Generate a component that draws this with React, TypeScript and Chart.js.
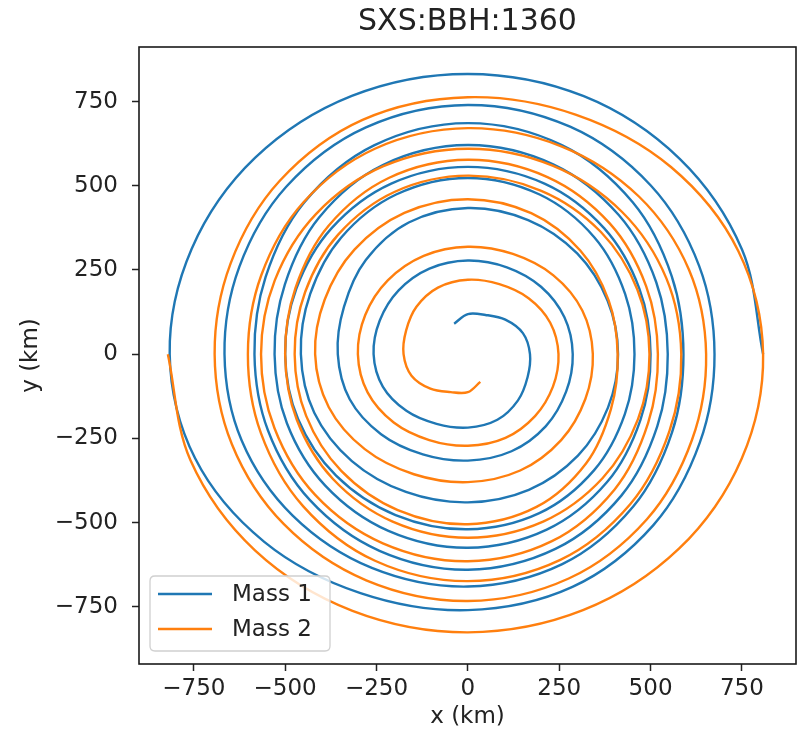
import React, { useEffect, useRef } from 'react';
import { Chart, registerables } from 'chart.js';

Chart.register(...registerables);

const TITLE = 'SXS:BBH:1360';
const X_LABEL = 'x (km)';
const Y_LABEL = 'y (km)';
const SERIES_NAMES = ['Mass 1', 'Mass 2'];
const X_TICKS = [-750, -500, -250, 0, 250, 500, 750];
const Y_TICKS = [-750, -500, -250, 0, 250, 500, 750];

const MASS1_ANGLE = [
  0, 22.5, 45, 67.5, 90, 112.5, 135, 157.5, 180, 202.5, 225, 247.5, 270, 292.5, 315, 337.5,
  360, 382.5, 405, 427.5, 450, 472.5, 495, 517.5, 540, 562.5, 585, 607.5, 630, 652.5, 675, 697.5,
  720, 742.5, 765, 787.5, 810, 832.5, 855, 877.5, 900, 922.5, 945, 967.5, 990, 1012.5, 1035, 1057.5,
  1080, 1102.5, 1125, 1147.5, 1170, 1192.5, 1215, 1237.5, 1260, 1282.5, 1305, 1327.5, 1350, 1372.5, 1395, 1417.5,
  1440, 1462.5, 1485, 1507.5, 1530, 1552.5, 1575, 1597.5, 1620, 1642.5, 1665, 1687.5, 1710, 1732.5, 1755, 1777.5,
  1800, 1822.5, 1845, 1867.5, 1890, 1912.5, 1935, 1957.5, 1980, 2002.5, 2025, 2047.5, 2070, 2092.5, 2115, 2137.5,
  2160, 2182.5, 2205, 2227.5, 2250, 2272.5, 2295, 2317.5, 2340, 2362.5, 2385, 2407.5, 2430, 2452.5, 2475, 2497.5,
  2520, 2542.5, 2565, 2587.5, 2610, 2632.5, 2655, 2677.5, 2700, 2722.5, 2745, 2767.5, 2790, 2812.5, 2835, 2857.5,
  2880, 2902.5, 2925, 2947.5, 2970, 2992.5,
];
const MASS1_RADIUS = [
  808, 812, 820, 829, 832, 830, 824, 818, 816, 808, 788, 768, 760, 748, 718, 687,
  675, 685, 708, 731, 740, 729, 703, 677, 666, 670, 678, 687, 690, 675, 640, 605,
  590, 604, 638, 672, 686, 671, 635, 599, 584, 592, 612, 632, 640, 626, 594, 561,
  547, 558, 584, 610, 621, 608, 575, 542, 529, 536, 552, 568, 575, 564, 538, 511,
  500, 508, 528, 548, 556, 548, 528, 508, 500, 503, 510, 517, 520, 511, 488, 465,
  456, 466, 490, 513, 523, 513, 490, 467, 457, 455, 449, 443, 440, 436, 426, 415,
  411, 414, 423, 431, 434, 423, 395, 367, 356, 350, 336, 322, 316, 312, 302, 291,
  287, 286, 283, 279, 278, 275, 268, 261, 258, 252, 238, 224, 218, 211, 194, 177,
  170, 163, 145, 126, 119, 98,
];

// Mass 2 orbit
const MASS2_ANGLE = [
  180, 202.5, 225, 247.5, 270, 292.5, 315, 337.5, 360, 382.5, 405, 427.5, 450, 472.5, 495, 517.5,
  540, 562.5, 585, 607.5, 630, 652.5, 675, 697.5, 720, 742.5, 765, 787.5, 810, 832.5, 855, 877.5,
  900, 922.5, 945, 967.5, 990, 1012.5, 1035, 1057.5, 1080, 1102.5, 1125, 1147.5, 1170, 1192.5, 1215, 1237.5,
  1260, 1282.5, 1305, 1327.5, 1350, 1372.5, 1395, 1417.5, 1440, 1462.5, 1485, 1507.5, 1530, 1552.5, 1575, 1597.5,
  1620, 1642.5, 1665, 1687.5, 1710, 1732.5, 1755, 1777.5, 1800, 1822.5, 1845, 1867.5, 1890, 1912.5, 1935, 1957.5,
  1980, 2002.5, 2025, 2047.5, 2070, 2092.5, 2115, 2137.5, 2160, 2182.5, 2205, 2227.5, 2250, 2272.5, 2295, 2317.5,
  2340, 2362.5, 2385, 2407.5, 2430, 2452.5, 2475, 2497.5, 2520, 2542.5, 2565, 2587.5, 2610, 2632.5, 2655, 2677.5,
  2700, 2722.5, 2745, 2767.5, 2790, 2812.5, 2835, 2857.5, 2880, 2902.5, 2925, 2947.5, 2970, 2992.5, 3015, 3037.5,
  3060, 3082.5, 3105, 3127.5, 3150, 3172.5,
];
const MASS2_RADIUS = [
  821, 822, 824, 825, 826, 823, 817, 811, 808, 801, 786, 770, 763, 753, 728, 703,
  693, 699, 713, 727, 733, 721, 693, 664, 652, 655, 662, 668, 671, 661, 637, 612,
  602, 613, 638, 664, 674, 661, 629, 597, 584, 588, 597, 606, 610, 604, 588, 572,
  566, 573, 591, 608, 615, 601, 568, 534, 520, 528, 549, 569, 577, 566, 539, 511,
  500, 507, 523, 538, 545, 538, 521, 504, 497, 502, 514, 525, 530, 522, 502, 482,
  474, 479, 490, 501, 505, 491, 458, 424, 410, 417, 435, 453, 460, 454, 439, 424,
  418, 412, 399, 386, 380, 374, 361, 348, 342, 339, 331, 322, 319, 316, 310, 304,
  301, 297, 287, 276, 272, 269, 260, 252, 248, 244, 235, 225, 221, 214, 199, 183,
  176, 167, 145, 122, 113, 89,
];

const BLUE = '#1f77b4';
const ORANGE = '#ff7f0e';
const FONT = "'DejaVu Sans', sans-serif";
const TEXT = '#222222';

const fmt = (v: number) => (v < 0 ? '\u2212' + Math.abs(v) : String(v));

// polar readings -> x/y table for the linear scales
const toPoints = (angles: number[], radii: number[]) =>
  angles.map((a, i) => ({
    x: radii[i] * Math.cos((a * Math.PI) / 180),
    y: radii[i] * Math.sin((a * Math.PI) / 180),
  }));

const framePlugin = {
  id: 'frameAndLegend',
  afterDatasetsDraw(chart: any) {
    const { ctx, chartArea } = chart;
    ctx.save();
    ctx.strokeStyle = '#1a1a1a';
    ctx.lineWidth = 1.6;
    ctx.strokeRect(chartArea.left, chartArea.top, chartArea.right - chartArea.left, chartArea.bottom - chartArea.top);
    ctx.restore();
  },
  afterDraw(chart: any) {
    const { ctx, chartArea } = chart;
    const bx = chartArea.left + 11;
    const by = chartArea.bottom - 88;
    const bw = 180;
    const bh = 75;
    const r = 5;
    ctx.save();
    ctx.beginPath();
    ctx.moveTo(bx + r, by);
    ctx.lineTo(bx + bw - r, by);
    ctx.quadraticCurveTo(bx + bw, by, bx + bw, by + r);
    ctx.lineTo(bx + bw, by + bh - r);
    ctx.quadraticCurveTo(bx + bw, by + bh, bx + bw - r, by + bh);
    ctx.lineTo(bx + r, by + bh);
    ctx.quadraticCurveTo(bx, by + bh, bx, by + bh - r);
    ctx.lineTo(bx, by + r);
    ctx.quadraticCurveTo(bx, by, bx + r, by);
    ctx.closePath();
    ctx.fillStyle = 'rgba(255,255,255,0.8)';
    ctx.fill();
    ctx.strokeStyle = '#d0d0d0';
    ctx.lineWidth = 1.3;
    ctx.stroke();
    const ds = chart.data.datasets;
    ds.forEach((d: any, i: number) => {
      const y = by + 18 + i * 35;
      ctx.beginPath();
      ctx.strokeStyle = d.borderColor;
      ctx.lineWidth = 2.4;
      ctx.moveTo(bx + 8, y);
      ctx.lineTo(bx + 62, y);
      ctx.stroke();
      ctx.fillStyle = TEXT;
      ctx.font = `23px ${FONT}`;
      ctx.textBaseline = 'middle';
      ctx.textAlign = 'left';
      ctx.fillText(d.label, bx + 82, y + 1);
    });
    ctx.restore();
  },
};

export default function App() {
  const ref = useRef<HTMLCanvasElement | null>(null);

  useEffect(() => {
    if (!ref.current) return;
    const chart = new Chart(ref.current, {
      type: 'scatter',
      data: {
        datasets: [
          {
            label: SERIES_NAMES[0],
            data: toPoints(MASS1_ANGLE, MASS1_RADIUS),
            showLine: true,
            borderColor: BLUE,
            backgroundColor: BLUE,
            borderWidth: 2.4,
            pointRadius: 0,
            tension: 0.34,
            order: 1,
          },
          {
            label: SERIES_NAMES[1],
            data: toPoints(MASS2_ANGLE, MASS2_RADIUS),
            showLine: true,
            borderColor: ORANGE,
            backgroundColor: ORANGE,
            borderWidth: 2.4,
            pointRadius: 0,
            tension: 0.34,
            order: 0,
          },
        ],
      },
      options: {
        animation: false,
        responsive: false,
        devicePixelRatio: 1,
        layout: { padding: { left: 0, right: 1, top: 0, bottom: 0 } },
        plugins: {
          legend: { display: false },
          tooltip: { enabled: false },
          title: {
            display: true,
            text: TITLE,
            fullSize: false,
            color: TEXT,
            font: { family: FONT, size: 30, weight: 'normal', lineHeight: 1.2 },
            padding: { top: 4, bottom: 7 },
          },
        },
        scales: {
          x: {
            type: 'linear',
            min: -900,
            max: 898,
            afterBuildTicks: (s: any) => {
              s.ticks = X_TICKS.map((v) => ({ value: v }));
            },
            afterFit: (s: any) => {
              s.height = 74;
            },
            grid: { display: true, drawOnChartArea: false, drawTicks: true, tickLength: 7, tickWidth: 1.5, tickColor: '#222' },
            border: { display: false },
            ticks: {
              color: TEXT,
              font: { family: FONT, size: 23 },
              padding: 4,
              maxRotation: 0,
              autoSkip: false,
              callback: (v: any) => fmt(Number(v)),
            },
            title: {
              display: true,
              text: X_LABEL,
              color: TEXT,
              font: { family: FONT, size: 23, lineHeight: 1.2 },
              padding: { top: 0, bottom: 7 },
            },
          },
          y: {
            type: 'linear',
            min: -920,
            max: 912,
            afterBuildTicks: (s: any) => {
              s.ticks = Y_TICKS.map((v) => ({ value: v }));
            },
            afterFit: (s: any) => {
              s.width = 139;
            },
            grid: { display: true, drawOnChartArea: false, drawTicks: true, tickLength: 7, tickWidth: 1.5, tickColor: '#222' },
            border: { display: false },
            ticks: {
              color: TEXT,
              font: { family: FONT, size: 23 },
              padding: 14,
              autoSkip: false,
              callback: (v: any) => fmt(Number(v)),
            },
            title: {
              display: true,
              text: Y_LABEL,
              color: TEXT,
              font: { family: FONT, size: 23, lineHeight: 1.2 },
              padding: { top: 17, bottom: 0 },
            },
          },
        },
      },
      plugins: [framePlugin],
    } as any);
    return () => chart.destroy();
  }, []);

  return (
    <div style={{ position: 'absolute', left: 0, top: 0, width: 797, height: 738, background: '#fff' }}>
      <canvas ref={ref} width={797} height={738} />
    </div>
  );
}
